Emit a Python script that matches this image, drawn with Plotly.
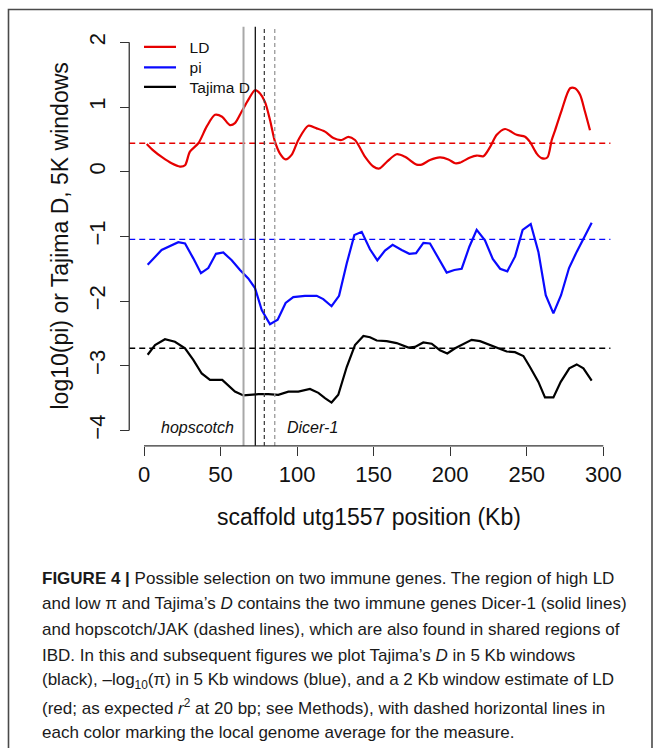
import plotly.graph_objects as go

# ---------------- data ----------------
ld_x = [1.8, 6, 12, 18, 23.5, 26.8, 30, 35.5, 41, 46.4, 51, 56.2, 59.4, 63.8, 68.1, 72.5, 75.8, 79,
        82.3, 85.6, 88.8, 92.5, 96.4, 100.8, 107.3, 112.8, 118.2, 123.7, 129.1, 133.5, 137.8, 144.4,
        149.8, 153.7, 158.5, 165, 170.5, 178.1, 181.4, 186.8, 193.3, 198.8, 203.2, 206.4, 213, 217.3,
        221.7, 226, 230.4, 235.8, 239, 243.4, 248.9, 252.1, 256.5, 259.7, 263.4, 266.3, 268.5, 272.8,
        278.3, 281.5, 284.8, 288, 291.3]
ld_y = [0.43, 0.33, 0.22, 0.13, 0.08, 0.10, 0.31, 0.44, 0.70, 0.88, 0.85, 0.72, 0.75, 0.93, 1.11, 1.26,
        1.21, 1.08, 0.80, 0.46, 0.28, 0.19, 0.26, 0.49, 0.71, 0.67, 0.62, 0.52, 0.49, 0.54, 0.49, 0.23,
        0.08, 0.05, 0.15, 0.27, 0.23, 0.11, 0.11, 0.18, 0.22, 0.19, 0.13, 0.14, 0.22, 0.25, 0.24, 0.38,
        0.57, 0.66, 0.63, 0.57, 0.54, 0.46, 0.28, 0.21, 0.22, 0.49, 0.64, 0.95, 1.29, 1.29, 1.19, 0.93,
        0.64]

pi_x = [2.4, 11.5, 22.4, 26.8, 32.2, 37.2, 42, 47, 51.8, 57.3, 62.7, 68.1, 72.5, 76.9, 82.3, 87.3,
        92.5, 97.5, 105.1, 112.8, 117.1, 122.5, 127.4, 132.4, 137.4, 142.2, 147.6, 152.4, 157.4, 162.4,
        168.3, 173.3, 177.7, 182.5, 186.8, 192.3, 197.7, 202.7, 207.5, 212.5, 217.3, 222.7, 227.8,
        232.6, 237.3, 242.4, 247.3, 252.6, 257.6, 262.4, 267.4, 272.4, 277.6, 282.6, 287.6, 292.4]
pi_y = [-1.44, -1.21, -1.09, -1.11, -1.34, -1.57, -1.49, -1.27, -1.25, -1.37, -1.52, -1.65, -1.80,
        -2.14, -2.36, -2.29, -2.03, -1.94, -1.92, -1.92, -1.97, -2.08, -1.92, -1.42, -0.98, -0.93,
        -1.20, -1.37, -1.22, -1.13, -1.21, -1.27, -1.26, -1.10, -1.11, -1.34, -1.56, -1.52, -1.50,
        -1.16, -0.90, -1.06, -1.35, -1.50, -1.54, -1.31, -0.90, -0.81, -1.24, -1.91, -2.19, -1.91,
        -1.49, -1.24, -1.01, -0.79]

td_x = [2.4, 7.2, 13.7, 20.2, 26.8, 32.2, 37.7, 43.1, 51.1, 55.1, 59.4, 64.9, 69.2, 74.7, 81.2, 87.7,
        94.3, 100.8, 108.4, 113.9, 118.2, 122.5, 126.9, 132.4, 137.8, 143.3, 147.6, 152, 158.5, 165,
        172.7, 177, 182.4, 187.9, 193.3, 198.1, 203.2, 208.6, 214, 219.5, 226, 231.4, 236.9, 242.3,
        247.8, 252.1, 257.6, 261.9, 267.4, 272.2, 277.8, 282.6, 287, 292.4]
td_y = [-2.83, -2.68, -2.59, -2.63, -2.73, -2.91, -3.12, -3.22, -3.22, -3.30, -3.40, -3.46, -3.45,
        -3.44, -3.44, -3.45, -3.40, -3.40, -3.36, -3.42, -3.50, -3.57, -3.45, -3.02, -2.68, -2.54,
        -2.56, -2.61, -2.62, -2.65, -2.72, -2.71, -2.64, -2.66, -2.76, -2.81, -2.73, -2.66, -2.60,
        -2.62, -2.68, -2.73, -2.78, -2.79, -2.85, -3.02, -3.25, -3.49, -3.49, -3.25, -3.04, -2.98,
        -3.04, -3.23]

# genome averages (dashed horizontal lines)
avg_ld, avg_pi, avg_td = 0.44, -1.045, -2.73

# gene boundaries (vertical lines)
dicer_lines = [65.0, 72.7]      # solid
hop_lines = [78.6, 85.4]        # dashed

gene_labels = ["hopscotch", "Dicer-1"]
gene_label_x = [35, 110]
gene_label_y = -3.95

series_names = ["LD", "pi", "Tajima D"]
x_ticks = [0, 50, 100, 150, 200, 250, 300]
y_ticks = [-4, -3, -2, -1, 0, 1, 2]

caption_lines = [
    "<b>FIGURE 4 |</b> Possible selection on two immune genes. The region of high LD",
    "and low π and Tajima’s <i>D</i> contains the two immune genes Dicer-1 (solid lines)",
    "and hopscotch/JAK (dashed lines), which are also found in shared regions of",
    "IBD. In this and subsequent figures we plot Tajima’s <i>D</i> in 5 Kb windows",
    "(black), –log<sub>10</sub>(π) in 5 Kb windows (blue), and a 2 Kb window estimate of LD",
    "(red; as expected <i>r</i><sup>2</sup> at 20 bp; see Methods), with dashed horizontal lines in",
    "each color marking the local genome average for the measure.",
]

# ---------------- figure ----------------
RED, BLUE, BLACK = "#e60000", "#0a0aff", "#000000"
FONT = "Liberation Sans, Arial, sans-serif"

W, H = 657, 748
ML, MR, MT, MB = 112, 37, 12, 293
PW, PH = W - ML - MR, H - MT - MB
X_USR = [-9.64, 304.64]
Y_USR = [-4.24, 2.24]
X_RANGE = [-20.9, 310.9]
Y_RANGE = [-4.3807, 2.4695]


def py2paper(py):
    return 1 - (py - MT) / PH


def px2paper(px):
    return (px - ML) / PW


x_axis_pos = (Y_USR[0] - Y_RANGE[0]) / (Y_RANGE[1] - Y_RANGE[0])
y_axis_pos = (X_USR[0] - X_RANGE[0]) / (X_RANGE[1] - X_RANGE[0])

NB = "\u00a0\u00a0"
fig = go.Figure()
fig.add_trace(go.Scatter(x=ld_x, y=ld_y, mode="lines", name=NB + series_names[0], legend="legend",
                         line=dict(color=RED, width=2.2, shape="spline", smoothing=0.8)))
fig.add_trace(go.Scatter(x=pi_x, y=pi_y, mode="lines", name=NB + series_names[1], legend="legend2",
                         line=dict(color=BLUE, width=2.2)))
fig.add_trace(go.Scatter(x=td_x, y=td_y, mode="lines", name=NB + series_names[2], legend="legend3",
                         line=dict(color=BLACK, width=2.2)))

shapes = []
for val, col in [(avg_ld, RED), (avg_pi, BLUE), (avg_td, BLACK)]:
    shapes.append(dict(type="line", xref="x", yref="y", x0=X_USR[0], x1=X_USR[1], y0=val, y1=val,
                       line=dict(color=col, width=1.3, dash="6px,4px"), layer="below"))
vstyles = [(dicer_lines[0], "#a8a8a8", 2.0, "solid"), (dicer_lines[1], "#111111", 1.3, "solid"),
           (hop_lines[0], "#444444", 1.3, "4px,3px"), (hop_lines[1], "#9a9a9a", 1.3, "4px,3px")]
for xv, col, wd, ds in vstyles:
    shapes.append(dict(type="line", xref="x", yref="y", x0=xv, x1=xv, y0=Y_USR[0], y1=Y_USR[1],
                       line=dict(color=col, width=wd, dash=ds)))
shapes.append(dict(type="line", xref="x", yref="y", x0=x_ticks[0], x1=x_ticks[-1],
                   y0=Y_USR[0], y1=Y_USR[0], line=dict(color="#333333", width=1.3)))
shapes.append(dict(type="line", xref="x", yref="y", x0=X_USR[0], x1=X_USR[0],
                   y0=y_ticks[0], y1=y_ticks[-1], line=dict(color="#333333", width=1.3)))
shapes.append(dict(type="rect", xref="paper", yref="paper",
                   x0=px2paper(8.5), x1=px2paper(652), y0=py2paper(9.5), y1=py2paper(800),
                   line=dict(color="#4a4a4a", width=1.6), layer="above"))

annotations = []
for lab, lx in zip(gene_labels, gene_label_x):
    annotations.append(dict(x=lx, y=gene_label_y, xref="x", yref="y", text=f"<i>{lab}</i>",
                            showarrow=False, font=dict(family=FONT, size=16, color="#111")))
annotations.append(dict(x=px2paper(369), y=py2paper(517), xref="paper", yref="paper",
                        text="scaffold utg1557 position (Kb)", showarrow=False,
                        font=dict(family=FONT, size=23, color="#111"), yanchor="middle"))
annotations.append(dict(x=px2paper(59), y=py2paper(236.5), xref="paper", yref="paper",
                        text="log10(pi) or Tajima D, 5K windows", showarrow=False, textangle=-90,
                        font=dict(family=FONT, size=23, color="#111"), xanchor="center",
                        yanchor="middle"))
for i, line in enumerate(caption_lines):
    annotations.append(dict(x=px2paper(40), y=py2paper(578 + i * 25.8), xref="paper", yref="paper",
                            text=line, showarrow=False, xanchor="left", yanchor="middle",
                            align="left", font=dict(family=FONT, size=17, color="#1a1a1a")))


def leg(top_px):
    return dict(x=px2paper(139), y=py2paper(top_px), xanchor="left", yanchor="top",
                bgcolor="rgba(0,0,0,0)", font=dict(family=FONT, size=15.5, color="#111"),
                itemwidth=32)


fig.update_layout(
    width=W, height=H,
    margin=dict(l=ML, r=MR, t=MT, b=MB, autoexpand=False),
    paper_bgcolor="white", plot_bgcolor="white",
    font=dict(family=FONT, color="#111"),
    shapes=shapes, annotations=annotations,
    showlegend=True,
    legend=leg(30.3), legend2=leg(50.7), legend3=leg(70.3),
    xaxis=dict(range=X_RANGE, tickvals=x_ticks, ticks="outside", ticklen=9, tickwidth=1.3,
               tickcolor="#333", showline=False, showgrid=False, zeroline=False,
               anchor="free", position=x_axis_pos,
               tickfont=dict(family=FONT, size=22, color="#111")),
    yaxis=dict(range=Y_RANGE, tickvals=y_ticks, ticks="outside", ticklen=9, tickwidth=1.3,
               tickcolor="#333", showline=False, showgrid=False, zeroline=False, tickangle=-90,
               anchor="free", position=y_axis_pos, ticklabelstandoff=6,
               tickfont=dict(family=FONT, size=22, color="#111")),
)

fig.write_html("out.html", config={"displayModeBar": False},
               post_script="document.body.style.margin='0';document.body.style.overflow='hidden';")
